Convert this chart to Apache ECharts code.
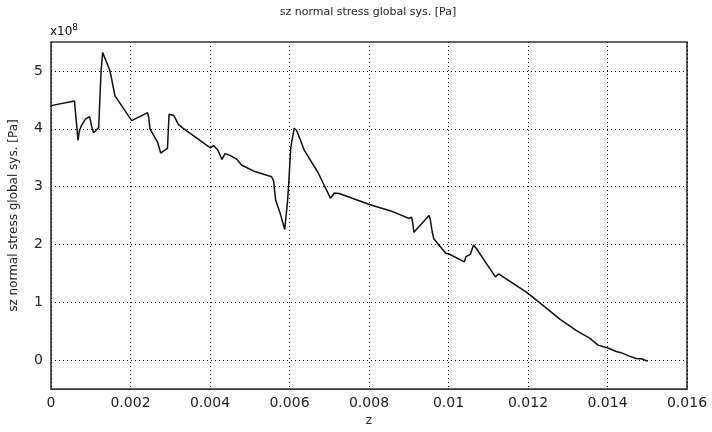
<!DOCTYPE html>
<html>
<head>
<meta charset="utf-8">
<script src="https://cdn.jsdelivr.net/npm/echarts@6/dist/echarts.min.js"></script>
<style>html,body{margin:0;padding:0;background:#fff}#c{width:712px;height:432px}</style>
</head>
<body>
<div id="c"></div>
<script>
// z positions [m]
const zValues = [0, 0.00059, 0.00062, 0.00068, 0.00071, 0.00076, 0.00087, 0.00097, 0.00102, 0.00107,
  0.00113, 0.0012, 0.00122, 0.00126, 0.0013, 0.00138, 0.00147, 0.0015, 0.00158, 0.00161,
  0.00203, 0.00243, 0.00246, 0.00249, 0.00268, 0.00276, 0.00282, 0.00293, 0.00297, 0.003,
  0.00309, 0.0032, 0.0033, 0.00401, 0.00409, 0.0042, 0.0043, 0.00438, 0.0045, 0.00468,
  0.0048, 0.00513, 0.00555, 0.0056, 0.00565, 0.00576, 0.00588, 0.00595, 0.00598, 0.00603,
  0.00607, 0.00612, 0.00618, 0.00626, 0.00637, 0.00672, 0.00703, 0.00713, 0.00725, 0.00801,
  0.00855, 0.00901, 0.00907, 0.0091, 0.00913, 0.00951, 0.00954, 0.00959, 0.00963, 0.00993,
  0.01, 0.0104, 0.01044, 0.01055, 0.01063, 0.0107, 0.01118, 0.01126, 0.01195, 0.0123,
  0.0128, 0.01322, 0.01355, 0.01376, 0.01401, 0.01422, 0.01434, 0.01455, 0.01472, 0.01488,
  0.01501];
// sz normal stress, in units of 1e8 Pa
const stressValues = [4.40, 4.48, 4.45, 3.80, 3.95, 4.05, 4.17, 4.21, 4.05, 3.93,
  3.97, 4.02, 4.36, 5.00, 5.32, 5.18, 5.03, 4.95, 4.67, 4.57,
  4.14, 4.28, 4.19, 4.00, 3.77, 3.58, 3.61, 3.66, 4.25, 4.28,
  4.23, 4.08, 4.02, 3.67, 3.71, 3.63, 3.47, 3.57, 3.54, 3.47,
  3.37, 3.26, 3.17, 3.10, 2.77, 2.55, 2.26, 2.74, 3.05, 3.66,
  3.83, 4.01, 3.97, 3.83, 3.63, 3.24, 2.80, 2.89, 2.88, 2.69,
  2.58, 2.45, 2.47, 2.38, 2.21, 2.50, 2.44, 2.22, 2.10, 1.85,
  1.84, 1.70, 1.79, 1.83, 1.99, 1.93, 1.44, 1.49, 1.18, 0.99,
  0.71, 0.51, 0.38, 0.26, 0.21, 0.15, 0.13, 0.07, 0.03, 0.02,
  -0.02];
const xTickLabels = ['0', '0.002', '0.004', '0.006', '0.008', '0.01', '0.012', '0.014', '0.016'];
const yTickLabels = ['0', '1', '2', '3', '4', '5'];

const FONT = 'DejaVu Sans';
const chart = echarts.init(document.getElementById('c'), null, {renderer: 'canvas'});
const seriesData = zValues.map((z, i) => [z, stressValues[i]]);

chart.setOption({
  backgroundColor: '#ffffff',
  animation: false,
  grid: {left: 49, right: 25, top: 42, bottom: 35, show: true, borderColor: '#333', borderWidth: 1.6, backgroundColor: '#fff'},
  xAxis: {
    type: 'value', min: 0, max: 0.016, interval: 0.002,
    axisLine: {show: false}, axisTick: {show: false},
    axisLabel: {
      color: '#222', fontFamily: FONT, fontSize: 14, margin: 7,
      formatter: v => { const idx = Math.round(v / 0.002); return xTickLabels[idx] !== undefined ? xTickLabels[idx] : ''; }
    },
    splitLine: {show: true, lineStyle: {color: '#000', width: 1, type: [1, 3]}},
    name: 'z', nameLocation: 'middle', nameGap: 23,
    nameTextStyle: {color: '#222', fontFamily: FONT, fontSize: 12}
  },
  yAxis: {
    type: 'value', min: -0.5, max: 5.5, interval: 0.5,
    axisLine: {show: false}, axisTick: {show: false},
    axisLabel: {
      color: '#222', fontFamily: FONT, fontSize: 14, margin: 8,
      formatter: v => { const r = Math.round(v); return (Math.abs(v - r) < 1e-6 && yTickLabels.includes(String(r))) ? String(r) : ''; }
    },
    splitLine: {show: true, lineStyle: {color: ['rgba(0,0,0,0)', '#000'], width: 1, type: [1, 3]}},
    name: 'sz normal stress global sys. [Pa]', nameLocation: 'middle', nameGap: 31, nameRotate: 90,
    nameTextStyle: {color: '#222', fontFamily: FONT, fontSize: 12}
  },
  graphic: [
    {type: 'text', x: 368, y: 7, style: {text: 'sz normal stress global sys. [Pa]', fill: '#222', font: '11px "DejaVu Sans"', align: 'center', verticalAlign: 'top'}},
    {type: 'text', x: 50, y: 41, style: {
      text: '{a|x10}{b|8}', verticalAlign: 'bottom', align: 'left',
      rich: {a: {fontFamily: FONT, fontSize: 12, color: '#222'}, b: {fontFamily: FONT, fontSize: 9, color: '#222', padding: [0, 0, 9, 0]}}
    }}
  ],
  series: [{
    type: 'line', data: seriesData, showSymbol: false, symbol: 'none',
    lineStyle: {color: '#111', width: 1.5}, z: 5
  }]
});
</script>
</body>
</html>
